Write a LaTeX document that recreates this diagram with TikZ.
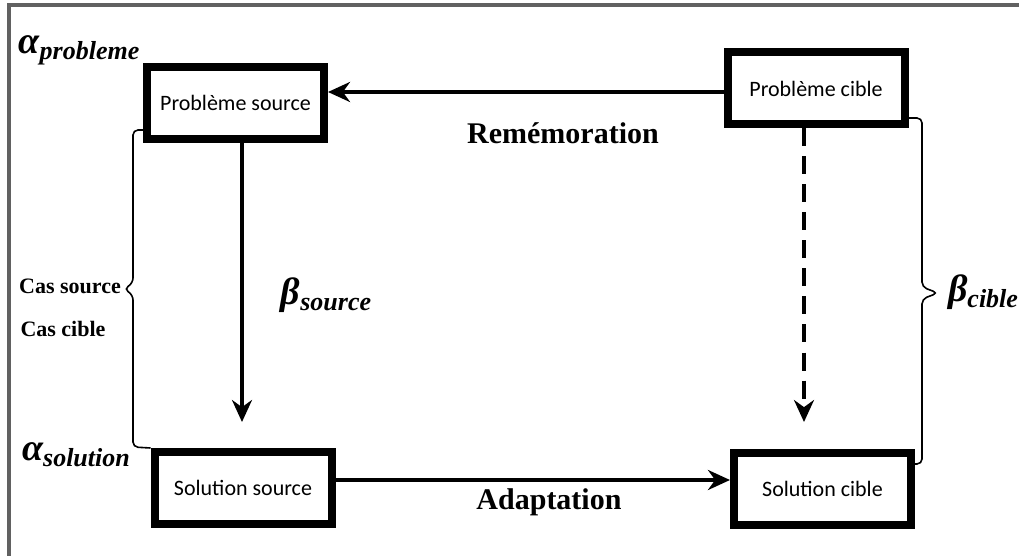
\documentclass[tikz,border=0pt]{standalone}
\usepackage{fontspec}
\usepackage{tikz}
\usetikzlibrary{shapes,arrows.meta}
\setmainfont{Liberation Serif}
\newfontfamily\boxfont{Carlito}

\tikzset{
  casbox/.style={draw, line width=4pt, fill=white, inner sep=0pt,
                 minimum width=88.5pt, minimum height=36pt, font=\boxfont\fontsize{11}{13}\selectfont},
  fleche/.style={line width=2pt, -{Stealth[length=11pt,width=10pt]}},
  accolade/.style={line width=0.8pt, rounded corners=2.5pt},
  etiquette/.style={font=\bfseries\fontsize{15}{17}\selectfont},
  grec/.style={font=\bfseries\itshape\fontsize{19}{21}\selectfont, inner sep=0pt}
}
\newcommand{\indice}[1]{\raisebox{-0.35ex}{\fontsize{13}{15}\selectfont #1}}

\begin{document}
\begin{tikzpicture}[x=0.5pt,y=-0.5pt]
                \useasboundingbox (0,0) rectangle (1019,556);
                % cadre
                \draw[line width=2pt, black!62] (9,560) -- (9,5) -- (1025,5);

                % cas
                \node[casbox] (ps) at (235.5,103) {Problème source};
                \node[casbox] (pc) at (816,88.5) {Problème cible};
                \node[casbox] (ss) at (243,488) {Solution source};
                \node[casbox] (sc) at (822.5,489) {Solution cible};

                % bouts libres des fleches
                \coordinate (bsrc) at (242,422);
                \coordinate (bcib) at (804,422);
                \coordinate (hrem) at (0,92);
                \coordinate (hada) at (0,480);

                % rememoration
                \draw[fleche, line width=2.4pt] (pc.west |- hrem) -- (ps.east |- hrem);
                % adaptation
                \draw[fleche, line width=2.4pt] (ss.east |- hada) -- (sc.west |- hada);
                % beta
                \draw[fleche, line width=1.6pt] (ps.south -| bsrc) -- (bsrc);
                \draw[fleche, line width=1.6pt, dash pattern=on 9pt off 5pt] (pc.south -| bcib) -- (bcib);

                % accolades
                \draw[accolade] (ps.south west |- 0,130) -- (133,130) -- (133,283)
                    -- (124,289) -- (133,295) -- (133,447) -- (ss.north west);
                \draw[accolade] (pc.south east |- 0,118) -- (922,118) -- (922,287)
                    -- (938,293) -- (922,299) -- (922,464) -- (sc.east |- 0,464);

                % textes
                \node[etiquette] (rem) at (563,133) {Remémoration};
                \node[etiquette] (ada) at (549,502) {Adaptation};
                \node[font=\bfseries\fontsize{11}{13}\selectfont] (csrc) at (70,286) {Cas source};
                \node[font=\bfseries\fontsize{11}{13}\selectfont] (ccib) at (63,329) {Cas cible};
                \node[grec] (ap) at (79,50) {α\indice{probleme}};
                \node[grec] (as) at (76,455) {α\indice{solution}};
                \node[grec] (bs) at (326,295) {β\indice{source}};
                \node[grec] (bc) at (983,292) {β\indice{cible}};
\end{tikzpicture}
\end{document}
